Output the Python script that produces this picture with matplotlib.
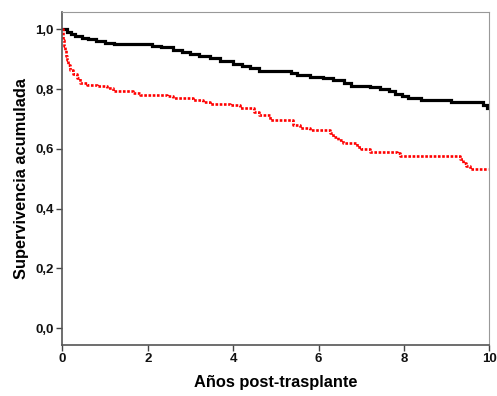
import matplotlib
matplotlib.use("Agg")
import matplotlib.pyplot as plt
from matplotlib.ticker import FuncFormatter

# Data
black_t = [0, 0.1, 0.2, 0.3, 0.45, 0.6, 0.8, 1.0, 1.2, 1.6, 2.1, 2.3, 2.6, 2.8, 3.0,
           3.2, 3.45, 3.7, 4.0, 4.2, 4.4, 4.6, 5.35, 5.5, 5.8, 6.1, 6.35, 6.6, 6.75,
           7.2, 7.45, 7.65, 7.8, 7.95, 8.1, 8.4, 9.1, 9.85, 9.95, 10.0]
black_s = [1.0, 0.99, 0.985, 0.978, 0.972, 0.966, 0.96, 0.955, 0.952, 0.95, 0.945, 0.94,
           0.932, 0.925, 0.918, 0.911, 0.903, 0.895, 0.885, 0.877, 0.870, 0.862, 0.855,
           0.848, 0.841, 0.836, 0.830, 0.822, 0.812, 0.808, 0.802, 0.792, 0.785, 0.776,
           0.770, 0.765, 0.758, 0.748, 0.738, 0.738]

red_t = [0, 0.01, 0.02, 0.04, 0.06, 0.08, 0.10, 0.14, 0.18, 0.25, 0.34, 0.41, 0.57, 0.81,
         1.04, 1.19, 1.66, 1.82, 2.45, 2.60, 3.07, 3.3, 3.46, 3.93, 4.16, 4.5, 4.6, 4.86,
         5.41, 5.57, 5.80, 6.27, 6.35, 6.45, 6.58, 6.89, 7.0, 7.21, 7.83, 7.91, 9.31,
         9.39, 9.45, 9.54, 9.97]
red_s = [1.0, 0.98, 0.964, 0.945, 0.93, 0.912, 0.897, 0.88, 0.864, 0.85, 0.836, 0.819,
         0.814, 0.810, 0.803, 0.795, 0.788, 0.780, 0.777, 0.769, 0.764, 0.757, 0.750,
         0.747, 0.736, 0.725, 0.713, 0.697, 0.680, 0.669, 0.663, 0.652, 0.641, 0.630,
         0.619, 0.605, 0.598, 0.591, 0.587, 0.576, 0.565, 0.554, 0.543, 0.533, 0.533]

x_ticks = [0, 2, 4, 6, 8, 10]
y_ticks = [0.0, 0.2, 0.4, 0.6, 0.8, 1.0]
x_label = "Años post-trasplante"
y_label = "Supervivencia acumulada"

plt.rcParams['font.family'] = ['Liberation Sans', 'DejaVu Sans']

fig = plt.figure(figsize=(4.97, 3.96), dpi=100)
ax = fig.add_axes([0.1254, 0.1288, 0.8591, 0.8402])

ax.step(black_t, black_s, where='post', color='black', lw=2.3, solid_joinstyle='miter')
ax.step(red_t, red_s, where='post', color='#ff0000', lw=1.9, linestyle=(0, (1.0, 0.6)))

ax.set_xlim(0, 10)
ax.set_ylim(-0.056, 1.057)
ax.set_xticks(x_ticks)
ax.set_yticks(y_ticks)
ax.xaxis.set_major_formatter(FuncFormatter(lambda v, p: f"{v:.0f}"))
ax.yaxis.set_major_formatter(FuncFormatter(lambda v, p: f"{v:.1f}".replace('.', ',')))

for lbl in ax.get_xticklabels() + ax.get_yticklabels():
    lbl.set_fontweight('bold')
    lbl.set_fontsize(9.5)
    lbl.set_color('#111111')

ax.tick_params(axis='both', direction='out', length=4, width=1, color='#444444', pad=2)

ax.spines['left'].set_color('#555555')
ax.spines['bottom'].set_color('#555555')
ax.spines['left'].set_linewidth(1.2)
ax.spines['bottom'].set_linewidth(1.2)
ax.spines['top'].set_color('#999999')
ax.spines['right'].set_color('#999999')

ax.set_xlabel(x_label, fontsize=11.8, fontweight='bold', labelpad=7)
ax.set_ylabel(y_label, fontsize=11.8, fontweight='bold', labelpad=5)

fig.savefig("out.png", dpi=100)
